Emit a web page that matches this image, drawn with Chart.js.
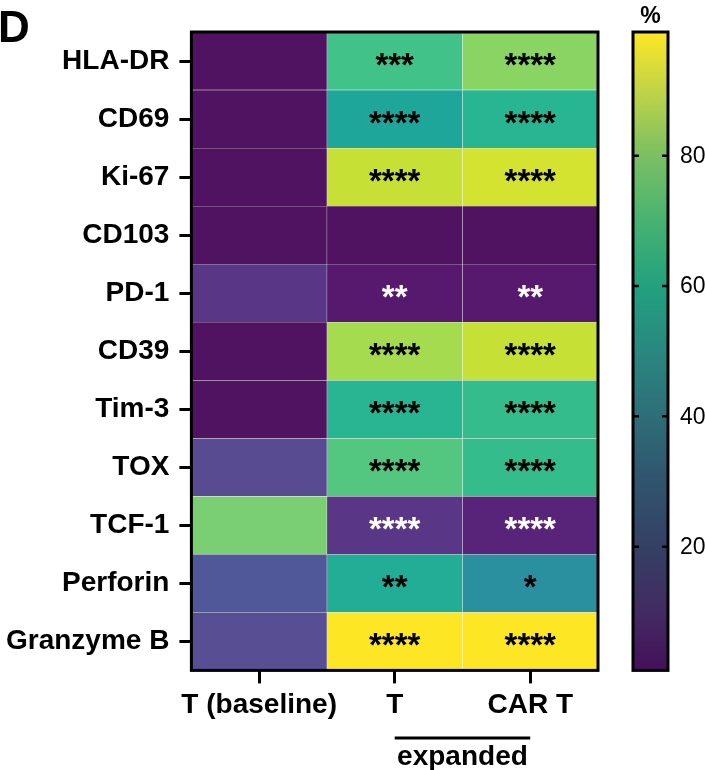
<!DOCTYPE html>
<html>
<head>
<meta charset="utf-8">
<script src="https://cdn.jsdelivr.net/npm/chart.js@4.4.1/dist/chart.umd.min.js"></script>
<style>
  body { margin: 0; background: #fff; }
  canvas { display: block; }
</style>
</head>
<body>
<canvas id="heatmap" width="705" height="770"></canvas>
<script>
// linhas e colunas do heatmap
const marcadores = ["HLA-DR", "CD69", "Ki-67", "CD103", "PD-1", "CD39", "Tim-3", "TOX", "TCF-1", "Perforin", "Granzyme B"];
const colunas = ["T (baseline)", "T", "CAR T"];

// % de celulas positivas
const baseline = [3, 3, 3, 3, 12, 3, 3, 16, 81, 20, 17];
const expandidoT = [70, 55, 91, 3, 5, 86, 62, 74, 12, 58, 99];
const expandidoCART = [83, 62, 93, 3, 5, 91, 66, 66, 8, 45, 99];

// significancia vs baseline
const estrelasT = ["***", "****", "****", "", "**", "****", "****", "****", "****", "**", "****"];
const estrelasCART = ["****", "****", "****", "", "**", "****", "****", "****", "****", "*", "****"];

// barra de cores
const escalaTicks = [20, 40, 60, 80];
const escalaMin = 1;
const escalaMax = 99;

// paleta tipo viridis (como aparece nas celulas)
const paleta = [
  [0.00, "#44104f"], [0.03, "#56156a"], [0.10, "#5a2f84"], [0.15, "#5a4a91"],
  [0.20, "#505a9a"], [0.35, "#367d9d"], [0.45, "#2a8f9e"], [0.55, "#1fa69b"],
  [0.62, "#26b691"], [0.70, "#3fc289"], [0.78, "#62ca78"], [0.82, "#7bd070"],
  [0.86, "#a0da52"], [0.92, "#c8e034"], [1.00, "#fde725"]
];
// a barra de cores sai um pouco mais escura na figura
const paletaBarra = [
  [0.00, "#45105a"], [0.09, "#432a62"], [0.19, "#353f64"], [0.30, "#30556e"],
  [0.40, "#2e6e78"], [0.50, "#2a8880"], [0.60, "#22a07f"], [0.70, "#45b272"],
  [0.81, "#7cc062"], [0.91, "#c2d446"], [1.00, "#fde725"]
];

function hexParaRgb(h) {
  return [parseInt(h.slice(1, 3), 16), parseInt(h.slice(3, 5), 16), parseInt(h.slice(5, 7), 16)];
}

function corDoValor(v) {
  let t = (v - escalaMin) / (escalaMax - escalaMin);
  t = Math.max(0, Math.min(1, t));
  for (let i = 1; i < paleta.length; i++) {
    if (t <= paleta[i][0]) {
      const [t0, c0] = paleta[i - 1];
      const [t1, c1] = paleta[i];
      const f = (t - t0) / (t1 - t0);
      const a = hexParaRgb(c0), b = hexParaRgb(c1);
      const rgb = a.map((x, k) => Math.round(x + (b[k] - x) * f));
      return "rgb(" + rgb.join(",") + ")";
    }
  }
  return paleta[paleta.length - 1][1];
}

const valores = [baseline, expandidoT, expandidoCART];
const estrelas = [[], estrelasT, estrelasCART];
const fonte = "Liberation Sans";

const datasets = valores.map((serie, c) => ({
  label: colunas[c],
  data: serie.map(() => [c, c + 1]),
  backgroundColor: serie.map(corDoValor),
  borderColor: "rgba(255,255,255,0.07)",
  borderWidth: 0.5,
  borderSkipped: false
}));

const desenhos = {
  id: "desenhos",
  afterDatasetsDraw(chart) {
    const { ctx, chartArea: a, scales: { x, y } } = chart;
    ctx.save();

    // asteriscos
    ctx.font = "bold 33px '" + fonte + "'";
    ctx.textAlign = "center";
    ctx.textBaseline = "alphabetic";
    estrelas.forEach((col, c) => {
      col.forEach((s, r) => {
        if (!s) return;
        ctx.fillStyle = valores[c][r] < 30 ? "#fff" : "#000";
        ctx.fillText(s, x.getPixelForValue(c + 0.5), y.getPixelForValue(r) + 15);
      });
    });

    // moldura
    ctx.lineWidth = 3;
    ctx.strokeStyle = "#000";
    ctx.strokeRect(a.left, a.top, a.width, a.height);

    // barra de cores
    const cbL = a.right + 35, cbR = a.right + 70;
    const grad = ctx.createLinearGradient(0, a.bottom, 0, a.top);
    paletaBarra.forEach(([t, c]) => grad.addColorStop(t, c));
    ctx.fillStyle = grad;
    ctx.fillRect(cbL, a.top, cbR - cbL, a.height);
    ctx.strokeRect(cbL, a.top, cbR - cbL, a.height);

    ctx.font = "23px '" + fonte + "'";
    ctx.textAlign = "left";
    ctx.textBaseline = "middle";
    ctx.fillStyle = "#000";
    ctx.lineWidth = 2.5;
    escalaTicks.forEach((v) => {
      const py = a.bottom - (v - escalaMin) / (escalaMax - escalaMin) * a.height;
      ctx.beginPath();
      ctx.moveTo(cbL, py); ctx.lineTo(cbL + 6, py);
      ctx.moveTo(cbR - 6, py); ctx.lineTo(cbR, py);
      ctx.stroke();
      ctx.fillText(String(v), cbR + 12, py + 1);
    });

    ctx.font = "bold 23px '" + fonte + "'";
    ctx.textAlign = "center";
    ctx.textBaseline = "alphabetic";
    ctx.fillText("%", (cbL + cbR) / 2, 23);

    // letra do painel
    ctx.font = "bold 44px '" + fonte + "'";
    ctx.textAlign = "left";
    ctx.fillText("D", -2, 42);

    // chave "expanded"
    const x1 = x.getPixelForValue(1.5), x2 = x.getPixelForValue(2.5);
    ctx.lineWidth = 3;
    ctx.beginPath();
    ctx.moveTo(x1, 738); ctx.lineTo(x2, 738);
    ctx.stroke();
    ctx.font = "bold 28px '" + fonte + "'";
    ctx.textAlign = "center";
    ctx.fillText("expanded", (x1 + x2) / 2, 765);

    ctx.restore();
  }
};

new Chart(document.getElementById("heatmap"), {
  type: "bar",
  data: { labels: marcadores, datasets: datasets },
  plugins: [desenhos],
  options: {
    responsive: false,
    animation: false,
    indexAxis: "y",
    layout: { padding: { left: -4, top: 32, right: 107, bottom: 43 } },
    plugins: { legend: { display: false }, tooltip: { enabled: false } },
    datasets: { bar: { grouped: false, barPercentage: 1, categoryPercentage: 1 } },
    scales: {
      y: {
        type: "category",
        grid: { offset: false, drawOnChartArea: false, color: "#000", lineWidth: 3, tickLength: 12 },
        border: { display: false },
        ticks: { color: "#000", padding: 10, font: { family: fonte, size: 28, weight: "bold" } }
      },
      x: {
        type: "linear",
        min: 0,
        max: 3,
        afterBuildTicks: (s) => { s.ticks = colunas.map((_, i) => ({ value: i + 0.5 })); },
        grid: { drawOnChartArea: false, color: "#000", lineWidth: 3, tickLength: 13 },
        border: { display: false },
        ticks: {
          color: "#000", padding: 5, maxRotation: 0, autoSkip: false,
          font: { family: fonte, size: 28, weight: "bold" },
          callback: (v) => colunas[Math.floor(v)]
        }
      }
    }
  }
});
</script>
</body>
</html>
